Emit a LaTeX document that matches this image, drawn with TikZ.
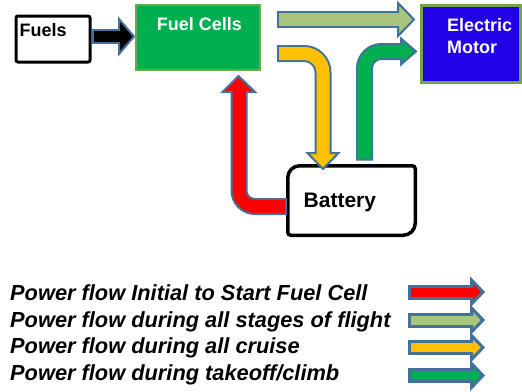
\documentclass[tikz,border=0pt]{standalone}
\usepackage{fontspec}
\setmainfont{Liberation Sans}
\definecolor{edgeblue}{RGB}{65,113,156}
\definecolor{fcgreen}{RGB}{0,176,80}
\definecolor{boxedge}{RGB}{112,168,71}
\definecolor{motorblue}{RGB}{34,0,232}
\definecolor{olivefill}{RGB}{169,196,124}
\definecolor{amber}{RGB}{255,192,0}
\definecolor{flowred}{RGB}{255,0,0}
\definecolor{flowgreen}{RGB}{0,176,80}
\begin{document}
\begin{tikzpicture}[x=1pt,y=-1pt,
  lbl/.style={font=\fontsize{18}{21}\selectfont\bfseries, inner sep=0},
  leg/.style={font=\fontsize{21.8}{26}\selectfont\bfseries\itshape, inner sep=0, anchor=base west},
  boxnode/.style={minimum width=#1, inner sep=0, anchor=north west},
  shaftedge/.style={draw=edgeblue, line width=#1, line cap=butt},
  shaftfill/.style={line cap=butt},
  headshape/.style={fill=#1, draw=edgeblue, line width=2},
  leghead/.style={fill=#1, draw=edgeblue, line width=3}]
\useasboundingbox[fill=white] (0,0) rectangle (522,391);

% boxes
\node[boxnode=74, minimum height=46, draw=black, line width=3, rounded corners=2] (fuels) at (14.5,14.5) {};
\node[lbl, anchor=base west] (fuelsT) at (19.4,36) {Fuels};
\node[boxnode=124, minimum height=65, fill=fcgreen, draw=boxedge, line width=2] (fc) at (135,4) {};
\node[lbl, anchor=base, text=white] (fcT) at (199.5,30) {Fuel Cells};
\node[boxnode=99, minimum height=77, fill=motorblue, draw=boxedge, line width=2.5] (motor) at (420.25,4.25) {};
\node[lbl, anchor=base west, text=white] (motorT1) at (447,31.7) {Electric};
\node[lbl, anchor=base west, text=white] (motorT2) at (447,53.3) {Motor};
\node[boxnode=127.5, minimum height=69.5] (battery) at (287.75,165.75) {};
\draw[line width=3.5, fill=white] (287.75,177.75) .. controls (287.75,171.12) and (293.12,165.75) .. (299.75,165.75)
  -- (412.25,165.75) .. controls (413.91,165.75) and (415.25,167.09) .. (415.25,168.75)
  -- (415.25,223.25) .. controls (415.25,229.88) and (409.88,235.25) .. (403.25,235.25)
  -- (290.75,235.25) .. controls (289.09,235.25) and (287.75,233.91) .. (287.75,232.25) -- cycle;
\node[font=\fontsize{21}{25}\selectfont\bfseries, inner sep=0, anchor=base west] (batteryT) at (303.5,207) {Battery};

% black arrow Fuels -> Fuel Cells
\draw[shaftedge=15] (92,36.5) -- (118,36.5);
\filldraw[headshape=black] (119,19) -- (134,36.5) -- (119,54) -- cycle;
\draw[shaftfill, black, line width=11] (94,36.5) -- (120.5,36.5);

% olive arrow Fuel Cells -> Motor
\draw[shaftedge=17] (277,19.5) -- (397,19.5);
\filldraw[headshape=olivefill] (398,3) -- (414,19.5) -- (398,36) -- cycle;
\draw[shaftfill, olivefill, line width=13] (279,19.5) -- (399.5,19.5);

% yellow arrow Fuel Cells -> Battery
\draw[shaftedge=17, rounded corners=19] (277,53.5) -- (323,53.5) -- (323,152);
\filldraw[headshape=amber] (307.5,153) -- (323,169) -- (338.5,153) -- cycle;
\draw[shaftfill, amber, line width=13, rounded corners=19] (279,53.5) -- (323,53.5) -- (323,154.5);

% green arrow Battery -> Motor
\draw[shaftedge=17, rounded corners=17] (364.5,160.5) -- (364.5,51.5) -- (400,51.5);
\filldraw[headshape=flowgreen] (401,38.5) -- (416,51.5) -- (401,64.5) -- cycle;
\draw[shaftfill, flowgreen, line width=13, rounded corners=17] (364.5,158.5) -- (364.5,51.5) -- (402.5,51.5);

% red arrow Battery -> Fuel Cells
\draw[shaftedge=17, rounded corners=16] (287,206.5) -- (239,206.5) -- (239,93);
\filldraw[headshape=flowred] (222.5,92) -- (238.5,76) -- (255,92) -- cycle;
\draw[shaftfill, flowred, line width=13, rounded corners=16] (285,206.5) -- (239,206.5) -- (239,90.5);

% legend
\node[leg] (l1) at (10,300.7) {Power flow Initial to Start Fuel Cell};
\node[leg] (l2) at (10,327.5) {Power flow during all stages of flight};
\node[leg] (l3) at (10,353.5) {Power flow during all cruise};
\node[leg] (l4) at (10,380) {Power flow during takeoff/climb};

\foreach \c/\y in {flowred/292, olivefill/320, amber/347.5, flowgreen/375.5} {
  \draw[shaftedge=15] (408,\y) -- (470,\y);
  \filldraw[leghead=\c] (471.5,\y-12) -- (483,\y) -- (471.5,\y+12) -- cycle;
  \draw[shaftfill, \c, line width=9] (411,\y) -- (473.5,\y);
}
\end{tikzpicture}
\end{document}
